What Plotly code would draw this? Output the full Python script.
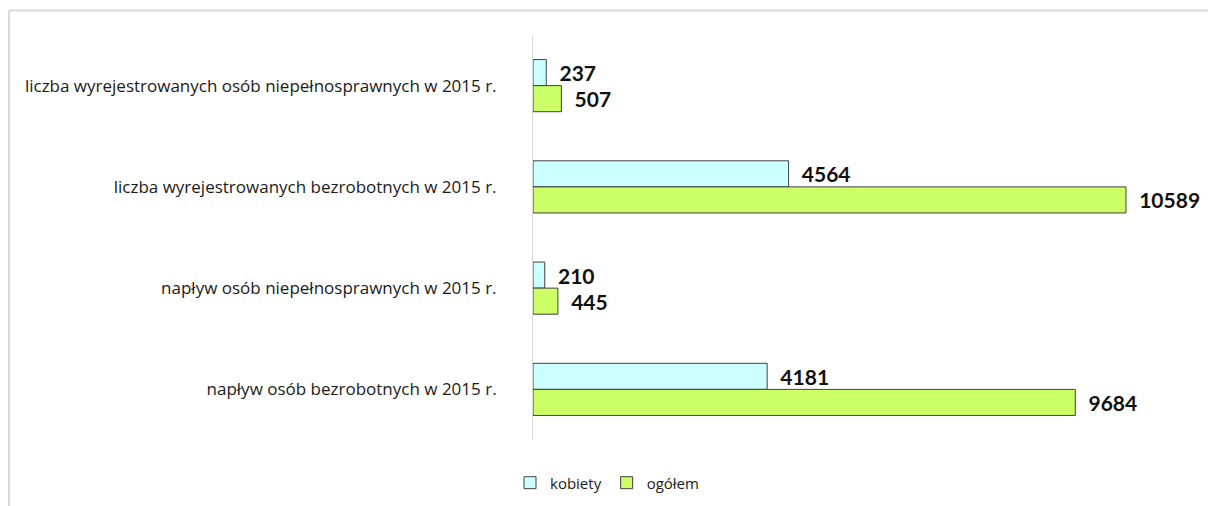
import plotly.graph_objects as go

categories = [
    "liczba wyrejestrowanych osób niepełnosprawnych w 2015 r.",
    "liczba wyrejestrowanych bezrobotnych w 2015 r.",
    "napływ osób niepełnosprawnych w 2015 r.",
    "napływ osób bezrobotnych w 2015 r.",
]
kobiety = [237, 4564, 210, 4181]
ogolem = [507, 10589, 445, 9684]

# page body has an 8px margin, so the figure is drawn 8px smaller
W, H = 1208, 498
L, R, T, B = 525, 11, 26.5, 66
pw, ph = W - L - R, H - T - B

label_font = dict(family="Lato", size=21, color="#111111", weight="bold")

fig = go.Figure()
fig.add_trace(go.Bar(
    name="kobiety", y=categories, x=kobiety, orientation="h",
    marker=dict(color="#CCFFFF", line=dict(color="#404040", width=1)),
    texttemplate="\u00a0\u00a0%{x:d}", textposition="outside",
    textfont=label_font, cliponaxis=False,
))
fig.add_trace(go.Bar(
    name="ogółem", y=categories, x=ogolem, orientation="h",
    marker=dict(color="#CCFF66", line=dict(color="#404040", width=1)),
    texttemplate="\u00a0\u00a0%{x:d}", textposition="outside",
    textfont=label_font, cliponaxis=False,
))

# outer chart frame (left and top border)
fx = (1 - L) / pw
fy = 1 + (T - 2) / ph
fig.add_shape(type="line", xref="paper", yref="paper", x0=fx, x1=fx, y0=fy, y1=-B / ph,
              line=dict(color="#D9D9D9", width=2))
fig.add_shape(type="line", xref="paper", yref="paper", x0=fx, x1=1 + R / pw, y0=fy, y1=fy,
              line=dict(color="#D9D9D9", width=2))

fig.update_layout(
    width=W, height=H,
    margin=dict(l=L, r=R, t=T, b=B, autoexpand=False),
    paper_bgcolor="white", plot_bgcolor="white",
    barmode="group", bargap=0.485, bargroupgap=0,
    font=dict(family="Open Sans", size=14, color="#1a1a1a"),
    showlegend=True,
    legend=dict(orientation="h", x=(607 - 8 - L) / pw, xanchor="center",
                y=(432 - 475) / ph, yanchor="middle",
                font=dict(size=15), traceorder="normal"),
    xaxis=dict(range=[0, 12000], visible=False, showgrid=False, zeroline=False),
    yaxis=dict(autorange="reversed", showline=True, linecolor="#D9D9D9", linewidth=1,
               ticks="", ticklabelstandoff=32, showgrid=False,
               tickfont=dict(size=17, color="#1a1a1a")),
)

fig.write_html("out.html")
